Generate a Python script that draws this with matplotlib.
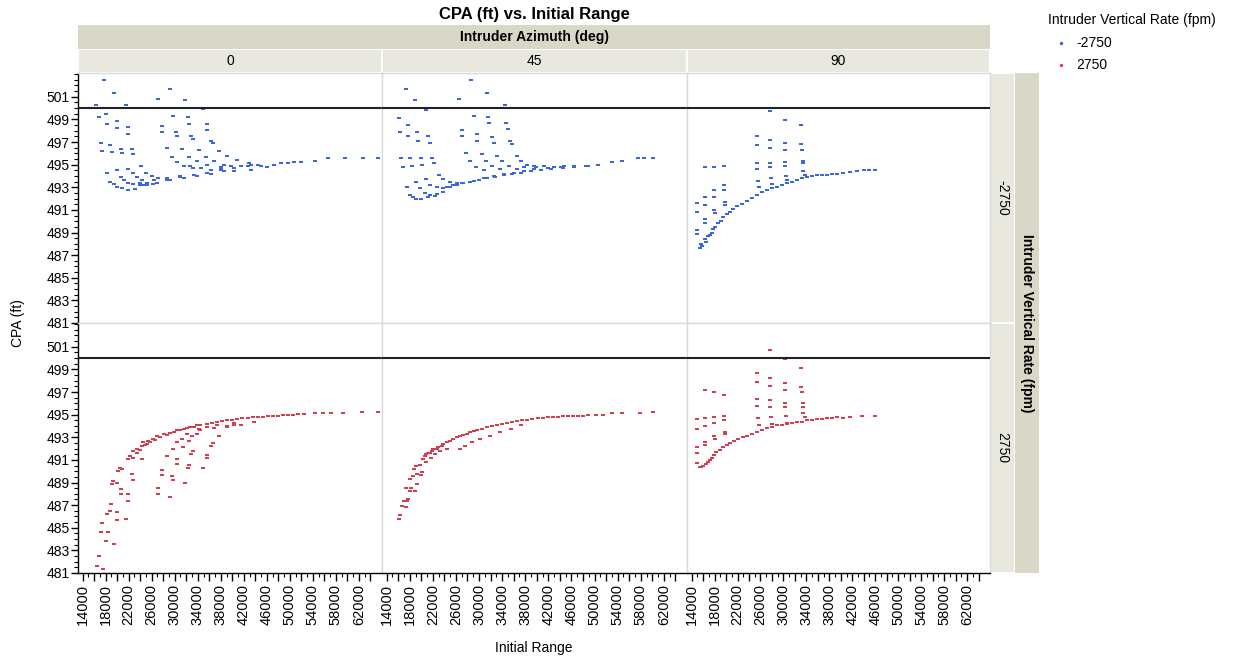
import matplotlib
matplotlib.use('Agg')
import matplotlib.pyplot as plt
from matplotlib.ticker import FixedLocator, MultipleLocator, NullLocator
from matplotlib.lines import Line2D

plt.rcParams['font.family'] = ['Liberation Sans', 'DejaVu Sans']

# ---------------- data ----------------
azimuths = ['0', '45', '90']
vrates = ['-2750', '2750']

# Vertical rate -2750, azimuth 0
x_neg_0 = [17700, 16400, 19440, 21490,
           16770, 18040, 18270, 19910, 19910, 21940, 21940,
           17220, 17290, 18790, 19090, 20610, 20840, 22640, 22820,
           18270, 19910, 21940, 24210,
           18790, 19390, 20020, 20790, 21940, 23110,
           20610, 21190, 21940, 22820, 23990, 25160,
           22820, 23410, 24280, 25160, 26310,
           25030, 26030, 27180,
           28650, 30980, 33300, 35650, 37970, 40300, 42640, 44960, 47300, 49630,
           51950, 54280, 56600, 59520, 62740, 65240,
           27080, 27080, 27780, 27780, 28650, 29530, 30400, 31550,
           29110, 29460, 29700, 30230, 30400, 31270, 32430, 33900, 35650,
           31730, 32250, 32550, 32900, 33130, 34300, 35350, 36800, 38550,
           34950, 35520, 35640, 36340, 36620, 37670, 39140, 40890, 42920,
           33250, 36230, 40240, 43200, 46000, 38000, 41500, 44500, 48500, 50800,
           23990, 26360, 28650, 30980, 33300, 35650, 37970, 40300, 42640, 44380,
           24560, 26900, 29230, 31550, 33900, 36230, 38550,
           32730, 34480, 36230, 37970, 39720, 41470, 43220]
y_neg_0 = [502.5, 500.3, 501.35, 500.3,
           499.2, 499.5, 498.6, 498.85, 498.2, 498.3, 497.7,
           496.9, 496.2, 496.7, 496.1, 496.4, 496.0, 496.4, 495.9,
           494.3, 494.5, 494.6, 494.9,
           493.5, 493.3, 493.0, 492.9, 492.8, 492.85,
           493.9, 493.65, 493.4, 493.3, 493.2, 493.2,
           494.25, 493.95, 493.65, 493.4, 493.3,
           494.3, 494.0, 493.8,
           493.65, 493.9, 494.1, 494.3, 494.5, 494.7, 494.85, 494.9, 495.0, 495.1,
           495.2, 495.35, 495.55, 495.55, 495.55, 495.55,
           500.8, 500.0, 498.4, 497.9, 496.45, 495.7, 495.2, 494.85,
           501.7, 500.0, 499.3, 497.9, 497.5, 496.4, 495.7, 495.3, 495.0,
           500.7, 499.2, 498.6, 497.5, 497.3, 496.3, 495.7, 495.3, 495.0,
           499.9, 498.6, 498.1, 497.1, 496.9, 496.2, 495.8, 495.4, 495.1,
           494.7, 494.55, 494.45, 494.55, 494.8, 494.8, 494.9, 495.0, 495.15, 495.2,
           493.35, 493.65, 493.8, 494.0, 494.1, 494.25, 494.5, 494.7, 494.85, 495.0,
           493.2, 493.35, 493.6, 493.8, 494.0, 494.2, 494.4,
           494.85, 494.7, 494.55, 494.7, 494.85, 494.85, 495.0]

# Vertical rate -2750, azimuth 45
x_neg_45 = [17400, 18970, 20770, 16100, 17680, 16350, 17680, 19250, 19490, 21240, 21470,
            16520, 18090, 19890, 21940,
            16750, 18320, 20120, 22170,
            17450, 18100, 18550, 19140, 20020, 21170, 22340,
            19020, 19720, 20590, 21470, 22640, 23800,
            20770, 21590, 22640, 23800, 24960, 26140,
            23040, 23800, 24960, 26140,
            27290, 29040, 30790, 32530, 34280, 36030, 37780, 39520, 41870, 44200,
            46520, 48860, 50610, 52930, 54680, 57600, 58470, 60050,
            26590, 26590, 27060, 27060, 27760, 28460, 29510, 30790,
            28640, 28860, 29110, 29560, 29560, 30440, 31140, 32250, 33700,
            31310, 31550, 31780, 32250, 32530, 33130, 34000, 35150, 36620,
            34460, 34700, 34930, 35400, 35630, 36500, 37320, 38370, 39820,
            24390, 25540, 27010, 28460, 29910, 31380, 32830, 34280, 35750, 37200,
            38950, 40700, 42440, 44490, 46520, 48560,
            37780, 39530, 41270, 43020, 44770]
y_neg_45 = [501.7, 500.7, 499.8, 499.1, 498.5, 497.85, 497.5, 497.9, 497.1, 497.5, 496.9,
            495.55, 495.55, 495.55, 495.55,
            494.75, 494.85, 495.0, 495.1,
            493.05, 492.3, 492.1, 491.95, 491.95, 492.1, 492.25,
            493.5, 492.9, 492.5, 492.3, 492.4, 492.6,
            493.75, 493.2, 493.0, 492.9, 493.05, 493.2,
            494.05, 493.7, 493.45, 493.35,
            493.4, 493.55, 493.8, 494.0, 494.2, 494.3, 494.45, 494.6, 494.7, 494.8,
            494.85, 494.9, 495.0, 495.2, 495.35, 495.55, 495.55, 495.55,
            500.8, 500.0, 498.05, 497.5, 496.0, 495.3, 494.8, 494.55,
            502.5, 500.0, 499.3, 497.7, 497.1, 495.9, 495.3, 494.85, 494.6,
            501.35, 499.2, 498.65, 497.4, 496.95, 495.8, 495.3, 494.9, 494.65,
            500.3, 498.65, 498.15, 497.1, 496.8, 495.8, 495.35, 495.0, 494.8,
            493.05, 493.2, 493.35, 493.5, 493.65, 493.8, 493.95, 494.1, 494.2, 494.25,
            494.4, 494.55, 494.65, 494.7, 494.8, 494.85,
            494.8, 494.85, 494.85, 494.8, 494.85]

# Vertical rate -2750, azimuth 90
x_neg_90 = [14950, 14950, 14950, 14950,
            16290, 16290, 16290, 16400, 16400,
            17870, 17870, 17870, 17990, 18100,
            19670, 19670, 19670, 19790, 19900,
            25330, 25330, 25330, 25440, 25560, 25680,
            27660, 27660, 27660, 27660, 27660, 27780, 27950,
            30230, 30230, 30230, 30230, 30230, 30460, 30580,
            33130, 33130, 33240, 33360, 33360, 33480, 33710,
            15420, 15890, 16590, 17170, 17740, 18620, 19490, 20660, 21840, 23580,
            25330, 27080, 28830, 30580, 32320, 34070, 35820, 37570, 39320, 41640,
            43970, 46010,
            15720, 16290, 16870, 17470, 18040, 19040, 20090, 21240, 22710, 24460,
            26210, 27950, 29700, 31450, 33200, 34950, 36690, 38440, 40470, 42810, 44840]
y_neg_90 = [491.6, 490.8, 489.2, 488.9,
            494.8, 492.15, 491.45, 490.2, 489.8,
            494.8, 492.75, 492.15, 491.0, 490.7,
            494.9, 493.2, 492.75, 491.7, 491.45,
            497.5, 496.7, 495.1, 494.6, 493.55, 493.05,
            499.75, 497.15, 496.45, 495.1, 494.75, 493.85, 493.3,
            498.95, 496.9, 496.25, 495.25, 494.85, 494.0, 493.65,
            498.5, 496.8, 496.25, 495.35, 495.1, 494.4, 494.1,
            487.65, 487.85, 488.2, 488.8, 489.3, 489.8, 490.4, 490.85, 491.3, 491.75,
            492.35, 492.75, 493.05, 493.35, 493.65, 493.95, 494.05, 494.1, 494.2, 494.35,
            494.5, 494.55,
            488.0, 488.4, 488.65, 489.0, 489.5, 490.05, 490.65, 491.05, 491.55, 492.05,
            492.55, 492.9, 493.2, 493.5, 493.8, 494.0, 494.05, 494.15, 494.25, 494.4, 494.55]

# Vertical rate 2750, azimuth 0
x_pos_0 = [16470, 16770, 17570, 17170, 17400, 18100, 18340, 18270, 18740, 18920,
           19040, 19320, 19440, 19910, 19910, 20720, 20720, 21490, 21940, 21940,
           20190, 20490, 20790, 19910, 22640, 22810, 21940, 22240, 22710, 24280,
           22810, 23410, 24280, 24560, 25160, 25440, 26310, 26900, 28060, 29230,
           30400, 31550, 32730, 33900, 35640, 37390, 39140, 40890, 42640, 44380,
           46130, 47880, 49630, 51380, 52530, 54280, 55750, 57200, 59250, 62440, 65240,
           27080, 27080, 27780, 27780, 28650, 29110, 29530, 29700, 29700, 30400,
           31270, 30400, 30400, 31450, 31730, 32250, 32430, 32900, 33130, 32550,
           33020, 33900, 34950, 35520, 35640, 36340, 36620, 37670, 39140, 40300,
           34180, 35640, 37390, 40300,
           23410, 23990, 24860, 25730, 26610, 27480, 28650, 29810, 30980, 32150,
           33300, 34470, 36520, 38270, 40010, 41760, 43510, 45260, 47010, 48750, 50500,
           32150, 34470, 36800, 39140, 41470, 43790]
y_pos_0 = [481.6, 482.5, 481.35, 484.65, 485.45, 483.85, 484.65, 486.2, 486.5, 487.1,
           488.85, 489.15, 483.6, 486.4, 485.7, 488.4, 488.0, 485.75, 487.95, 487.4,
           490.0, 490.3, 490.15, 489.0, 489.75, 489.2, 491.05, 491.35, 491.15, 491.05,
           491.8, 492.0, 492.25, 492.55, 492.4, 492.7, 492.85, 493.15, 493.3, 493.4,
           493.6, 493.75, 493.9, 494.05, 494.2, 494.35, 494.5, 494.65, 494.7, 494.8,
           494.85, 494.9, 494.95, 495.05, 495.05, 495.1, 495.1, 495.1, 495.1, 495.25, 495.25,
           488.55, 487.95, 490.1, 489.7, 491.35, 487.7, 489.6, 489.2, 492.0, 492.55,
           492.85, 490.6, 491.05, 492.1, 489.0, 490.25, 490.55, 491.5, 491.8, 492.7,
           493.15, 493.3, 490.25, 491.15, 491.45, 492.25, 492.5, 493.15, 493.9, 494.05,
           493.75, 493.9, 494.05, 494.3,
           491.65, 491.9, 492.3, 492.55, 492.8, 493.0, 493.2, 493.45, 493.65, 493.8,
           493.95, 494.1, 494.25, 494.4, 494.55, 494.7, 494.75, 494.8, 494.9, 494.95, 495.0,
           493.3, 493.6, 493.8, 494.0, 494.1, 494.35]

# Vertical rate 2750, azimuth 45
x_pos_45 = [16100, 16350, 16630, 16930, 17400, 17680, 17570, 17400, 17970, 18270,
            18850, 19250, 18100, 18550, 19250, 20020, 20190, 18740, 19160, 19740,
            20300, 20890, 21470, 22040, 22920, 23790, 24960, 26140, 27290, 28460,
            29630, 31380, 33130, 34880, 36620, 38370, 40120, 41870, 43620, 45360,
            47110, 48860, 50310, 51480, 52930, 54680, 57880, 60050,
            20890, 21760, 22340, 23220, 24390, 26710, 27590, 28750, 30210, 31960,
            33700, 35450, 37200,
            20590, 21170, 21770, 22640, 23510, 24390, 25540, 26710, 27880, 29040,
            30510, 32250, 34000, 35750, 37500, 39250, 40990, 42740, 44490, 46240, 47990]
y_pos_45 = [485.75, 486.1, 486.9, 487.35, 486.85, 487.5, 487.35, 488.5, 488.25, 488.55,
            488.25, 488.85, 489.35, 489.6, 489.75, 489.65, 489.95, 490.2, 490.5, 490.55,
            491.05, 491.5, 491.65, 491.95, 492.15, 492.4, 492.7, 493.0, 493.2, 493.45,
            493.65, 493.9, 494.1, 494.25, 494.4, 494.55, 494.7, 494.75, 494.8, 494.85,
            494.9, 494.95, 495.0, 495.0, 495.1, 495.15, 495.15, 495.2,
            490.8, 491.2, 491.5, 491.8, 492.0, 491.95, 492.25, 492.55, 492.85, 493.15,
            493.45, 493.75, 494.05,
            491.3, 491.6, 491.8, 492.0, 492.25, 492.55, 492.85, 493.1, 493.3, 493.55,
            493.75, 494.0, 494.2, 494.35, 494.5, 494.65, 494.7, 494.8, 494.85, 494.9, 494.9]

# Vertical rate 2750, azimuth 90
x_pos_90 = [14950, 14950, 14950, 14950, 14950, 15400,
            16290, 16290, 16290, 16400, 16400,
            17870, 17870, 17870, 17990, 18100,
            19670, 19670, 19670, 19790, 19900,
            25330, 25330, 25330, 25440, 25560, 25680,
            27660, 27660, 27660, 27660, 27660, 27780, 27950,
            30230, 30230, 30230, 30230, 30230, 30460, 30580,
            33130, 33130, 33240, 33360, 33360, 33480, 33710,
            15420, 15990, 16870, 17470, 18340, 19490, 20660, 22120, 23580, 25330,
            27080, 28830, 30580, 32320, 34070, 35820, 37570, 39320, 41640, 43690, 46010,
            15720, 16470, 17170, 17870, 18920, 20090, 21360, 22880, 24460, 26210,
            27950, 29700, 31450, 33200, 34950, 36690, 38440, 40470]
y_pos_90 = [492.1, 491.6, 493.7, 494.65, 490.7, 490.35,
            497.2, 494.7, 494.0, 492.6, 492.3,
            497.0, 494.8, 494.25, 493.1, 492.85,
            496.75, 494.9, 494.5, 493.45, 493.25,
            498.7, 497.9, 496.35, 495.8, 494.7, 494.1,
            500.75, 498.2, 497.55, 496.25, 495.65, 494.75, 494.2,
            499.95, 497.8, 497.2, 496.05, 495.65, 494.85, 494.3,
            499.15, 497.45, 497.0, 496.05, 495.65, 495.15, 494.8,
            490.35, 490.5, 490.85, 491.2, 491.7, 492.1, 492.5, 492.85, 493.15, 493.5,
            493.8, 494.05, 494.2, 494.35, 494.5, 494.6, 494.7, 494.75, 494.75, 494.9, 494.9,
            490.4, 490.6, 491.0, 491.4, 491.9, 492.3, 492.65, 493.0, 493.3, 493.65,
            493.9, 494.1, 494.25, 494.35, 494.55, 494.65, 494.7, 494.7]

ref_cpa = 500
y_ticks = list(range(481, 502, 2))
x_major = list(range(14000, 64001, 2000))
x_labels = [str(v) if (v - 14000) % 4000 == 0 else '' for v in x_major]

panels = {
    (0, 0): (x_neg_0, y_neg_0), (0, 1): (x_neg_45, y_neg_45), (0, 2): (x_neg_90, y_neg_90),
    (1, 0): (x_pos_0, y_pos_0), (1, 1): (x_pos_45, y_pos_45), (1, 2): (x_pos_90, y_pos_90),
}
colors = ['#3B67DE', '#D23F4E']
dash_marker = [(-1.5, -1.0), (1.5, -1.0), (1.5, 1.0), (-1.5, 1.0), (-1.5, -1.0)]

# ---------------- layout ----------------
W, H = 1244, 660
fig = plt.figure(figsize=(W / 100, H / 100), dpi=100)


def rect(x0, y0, x1, y1):
    return [x0 / W, 1 - y1 / H, (x1 - x0) / W, (y1 - y0) / H]


def strip(x0, y0, x1, y1, color):
    a = fig.add_axes(rect(x0, y0, x1, y1))
    a.set_facecolor(color)
    a.set_xticks([])
    a.set_yticks([])
    for s in a.spines.values():
        s.set_visible(False)
    return a


dark = '#D9D7C8'
light = '#E8E8DF'
grid_gray = '#DADADA'

col_x = [(78, 382), (382, 687), (687, 990)]
row_y = [(73, 323), (323, 573)]

# top strips
sa = strip(78, 25, 990, 49, dark)
sa.text(0.5, 0.5, 'Intruder Azimuth (deg)', ha='center', va='center', fontsize=10,
        fontweight='bold', transform=sa.transAxes)
for c, (x0, x1) in enumerate(col_x):
    s = strip(x0 + 1, 50, x1 - 1, 72, light)
    s.text(0.5, 0.5, azimuths[c], ha='center', va='center', fontsize=10, transform=s.transAxes)

# right strips
for r, (y0, y1) in enumerate(row_y):
    s = strip(991, y0 + 1, 1014, y1 - 1, light)
    s.text(0.5, 0.5, vrates[r], ha='center', va='center', fontsize=10, rotation=-90,
           transform=s.transAxes)
sr = strip(1015, 73, 1039, 573, dark)
sr.text(0.5, 0.5, 'Intruder Vertical Rate (fpm)', ha='center', va='center', fontsize=10,
        fontweight='bold', rotation=-90, transform=sr.transAxes)

for (r, c), (xs, ys) in panels.items():
    x0, x1 = col_x[c]
    y0, y1 = row_y[r]
    ax = fig.add_axes(rect(x0, y0, x1, y1))
    ax.set_xlim(13200, 66000)
    ax.set_ylim(481, 503.1)
    ax.plot(xs, ys, linestyle='none', marker=dash_marker, ms=2.6, mew=0, color=colors[r])
    ax.axhline(ref_cpa, color='#222222', lw=1.5, zorder=3)
    for name, sp in ax.spines.items():
        sp.set_color(grid_gray)
        sp.set_linewidth(1.0)
    if c == 0:
        ax.spines['left'].set_color('black')
        ax.yaxis.set_major_locator(FixedLocator(y_ticks))
        ax.yaxis.set_minor_locator(MultipleLocator(0.5))
        ax.tick_params(axis='y', which='major', length=5, width=1, labelsize=10, pad=1)
        ax.tick_params(axis='y', which='minor', length=3, width=0.8)
    else:
        ax.yaxis.set_major_locator(NullLocator())
        ax.yaxis.set_minor_locator(NullLocator())
    if r == 1:
        ax.spines['bottom'].set_color('black')
        ax.xaxis.set_major_locator(FixedLocator(x_major))
        ax.set_xticklabels(x_labels, rotation=90)
        ax.xaxis.set_minor_locator(FixedLocator(list(range(14000, 64001, 1000))))
        ax.tick_params(axis='x', which='major', length=6, width=1, labelsize=10.5, pad=2)
        ax.tick_params(axis='x', which='minor', length=3, width=0.8)
    else:
        ax.xaxis.set_major_locator(NullLocator())
        ax.xaxis.set_minor_locator(NullLocator())

fig.text(534 / W, 1 - 14 / H, 'CPA (ft) vs. Initial Range', ha='center', va='center',
         fontsize=12, fontweight='bold')
fig.text(18 / W, 1 - 323 / H, 'CPA (ft)', ha='center', va='center', rotation=90, fontsize=10)
fig.text(534 / W, 1 - 648 / H, 'Initial Range', ha='center', va='center', fontsize=10)

# legend
fig.text(1048 / W, 1 - 20 / H, 'Intruder Vertical Rate (fpm)', ha='left', va='center', fontsize=10)
for i, lab in enumerate(vrates):
    yy = 1 - (43 + 22 * i) / H
    fig.add_artist(Line2D([1061 / W], [yy], marker='o', ms=2.5, mew=0, color=colors[i],
                          linestyle='none', transform=fig.transFigure))
    fig.text(1076 / W, yy, lab, ha='left', va='center', fontsize=10)

fig.savefig('out.png', dpi=100)
